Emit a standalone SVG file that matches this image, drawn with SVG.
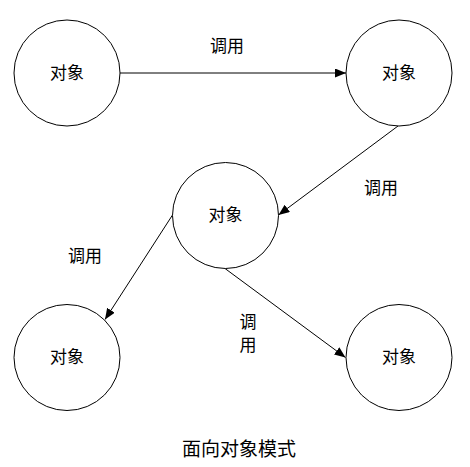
<svg xmlns="http://www.w3.org/2000/svg" width="470" height="467" viewBox="0 0 470 467">
<style>
.n{fill:#fff;stroke:#000;stroke-width:1}
.t{font-family:"Liberation Sans","Noto Sans CJK SC",sans-serif;font-size:17px;fill:#000;text-anchor:middle}
.h{font-size:19px}
.e{stroke:#000;stroke-width:1;fill:none;marker-end:url(#ah)}
</style>
<defs>
<marker id="ah" markerWidth="12" markerHeight="10" refX="11" refY="4.5" orient="auto" markerUnits="userSpaceOnUse">
<path d="M0,0 L11,4.5 L0,9 Z" fill="#000"/>
</marker>
</defs>
<rect width="470" height="467" fill="#fff"/>
<g id="connectors">
<line class="e" x1="120" y1="73" x2="346" y2="73"/>
<line class="e" x1="398" y1="126" x2="278.5" y2="215"/>
<line class="e" x1="172.5" y1="215" x2="105" y2="319.5"/>
<line class="e" x1="225" y1="268.5" x2="345.5" y2="357.5"/>
<text class="t" x="227" y="52">调用</text>
<text class="t" x="381" y="194">调用</text>
<text class="t" x="85" y="262">调用</text>
<text class="t" x="248" y="328">调</text>
<text class="t" x="248" y="351">用</text>
</g>
<g id="node1"><circle class="n" cx="67" cy="73" r="53"/><text class="t" x="67" y="79">对象</text></g>
<g id="node2"><circle class="n" cx="399" cy="73" r="53"/><text class="t" x="399" y="79">对象</text></g>
<g id="node3"><circle class="n" cx="225.5" cy="215.5" r="53"/><text class="t" x="225.5" y="221">对象</text></g>
<g id="node4"><circle class="n" cx="67" cy="357.5" r="53"/><text class="t" x="67" y="363">对象</text></g>
<g id="node5"><circle class="n" cx="399" cy="357.5" r="53"/><text class="t" x="399" y="363">对象</text></g>
<text class="t h" x="239" y="456">面向对象模式</text>
</svg>
